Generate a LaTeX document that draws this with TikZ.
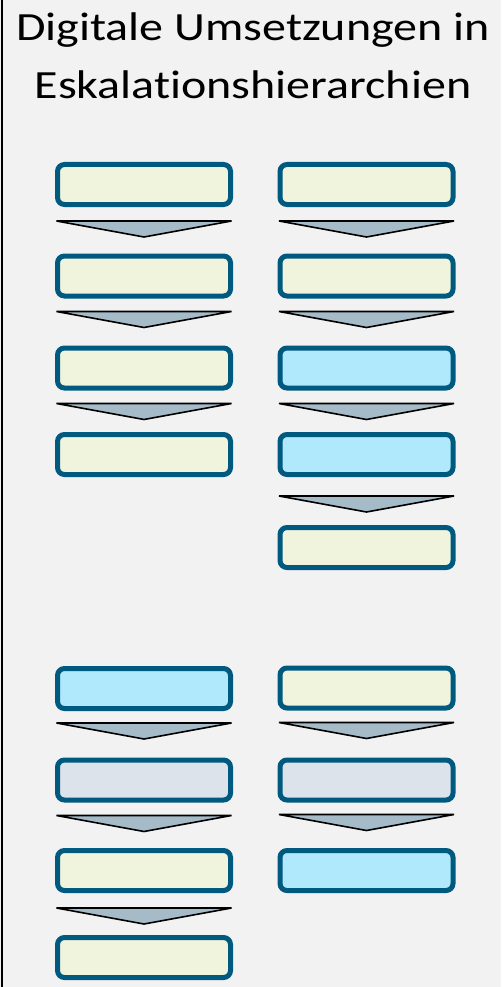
\documentclass[tikz,border=0pt]{standalone}
\usepackage{fontspec}
\setmainfont[Ligatures=NoCommon]{Carlito}
\newfontfamily\titlefont[Ligatures=NoCommon,FakeStretch=1.2]{Carlito}
\usetikzlibrary{calc}

\definecolor{pagebg}{RGB}{242,242,242}
\definecolor{rimblue}{RGB}{0,90,128}
\definecolor{cream}{RGB}{240,244,220}
\definecolor{skyblue}{RGB}{176,232,252}
\definecolor{paleslate}{RGB}{220,227,234}
\definecolor{chevfill}{RGB}{165,187,200}

\tikzset{
  levelbox/.style={draw=rimblue,line width=5pt,rounded corners=7pt,minimum width=173pt,minimum height=40pt,inner sep=0pt},
  chevron/.style={draw=black,fill=chevfill,line width=1.6pt,line join=miter},
}
% chevron below a box: #1 = upper box, #2 = gap to the bar
\newcommand{\chev}[2]{\draw[chevron] ($(#1.south)+(-87.5,-#2)$) -- ($(#1.south)+(87.5,-#2)$) -- ($(#1.south)+(0,-#2-16)$) -- cycle;}

\begin{document}
\begin{tikzpicture}[x=1pt,y=1pt]
\fill[pagebg] (0,0) rectangle (501,-987);
\useasboundingbox (0,0) rectangle (501,-987);
\draw[line width=2pt] (2,0) -- (2,-987);
\node[font=\titlefont\fontsize{40}{58}\selectfont,align=center,anchor=north,inner sep=0pt] (title) at (253,-13) {Digitale Umsetzungen in\\Eskalationshierarchien};

% upper left
\node[levelbox,fill=cream] (a1) at (144,-184.5) {};
\node[levelbox,fill=cream] (a2) at (144,-276) {};
\node[levelbox,fill=cream] (a3) at (144,-368) {};
\node[levelbox,fill=cream] (a4) at (144,-454.5) {};
\chev{a1}{14}
\chev{a2}{13}
\chev{a3}{13}

% upper right
\node[levelbox,fill=cream] (b1) at (366.5,-184.5) {};
\node[levelbox,fill=cream] (b2) at (366.5,-276) {};
\node[levelbox,fill=skyblue] (b3) at (366.5,-368) {};
\node[levelbox,fill=skyblue] (b4) at (366.5,-454.5) {};
\node[levelbox,fill=cream] (b5) at (366.5,-547.5) {};
\chev{b1}{14}
\chev{b2}{13}
\chev{b3}{13}
\chev{b4}{19}

% lower left
\node[levelbox,fill=skyblue] (c1) at (144,-688.5) {};
\node[levelbox,fill=paleslate] (c2) at (144,-780) {};
\node[levelbox,fill=cream] (c3) at (144,-870.5) {};
\node[levelbox,fill=cream] (c4) at (144,-957.5) {};
\chev{c1}{12}
\chev{c2}{13}
\chev{c3}{15}

% lower right
\node[levelbox,fill=cream] (d1) at (366.5,-688) {};
\node[levelbox,fill=paleslate] (d2) at (366.5,-780) {};
\node[levelbox,fill=skyblue] (d3) at (366.5,-870.5) {};
\chev{d1}{12}
\chev{d2}{12}
\end{tikzpicture}
\end{document}
